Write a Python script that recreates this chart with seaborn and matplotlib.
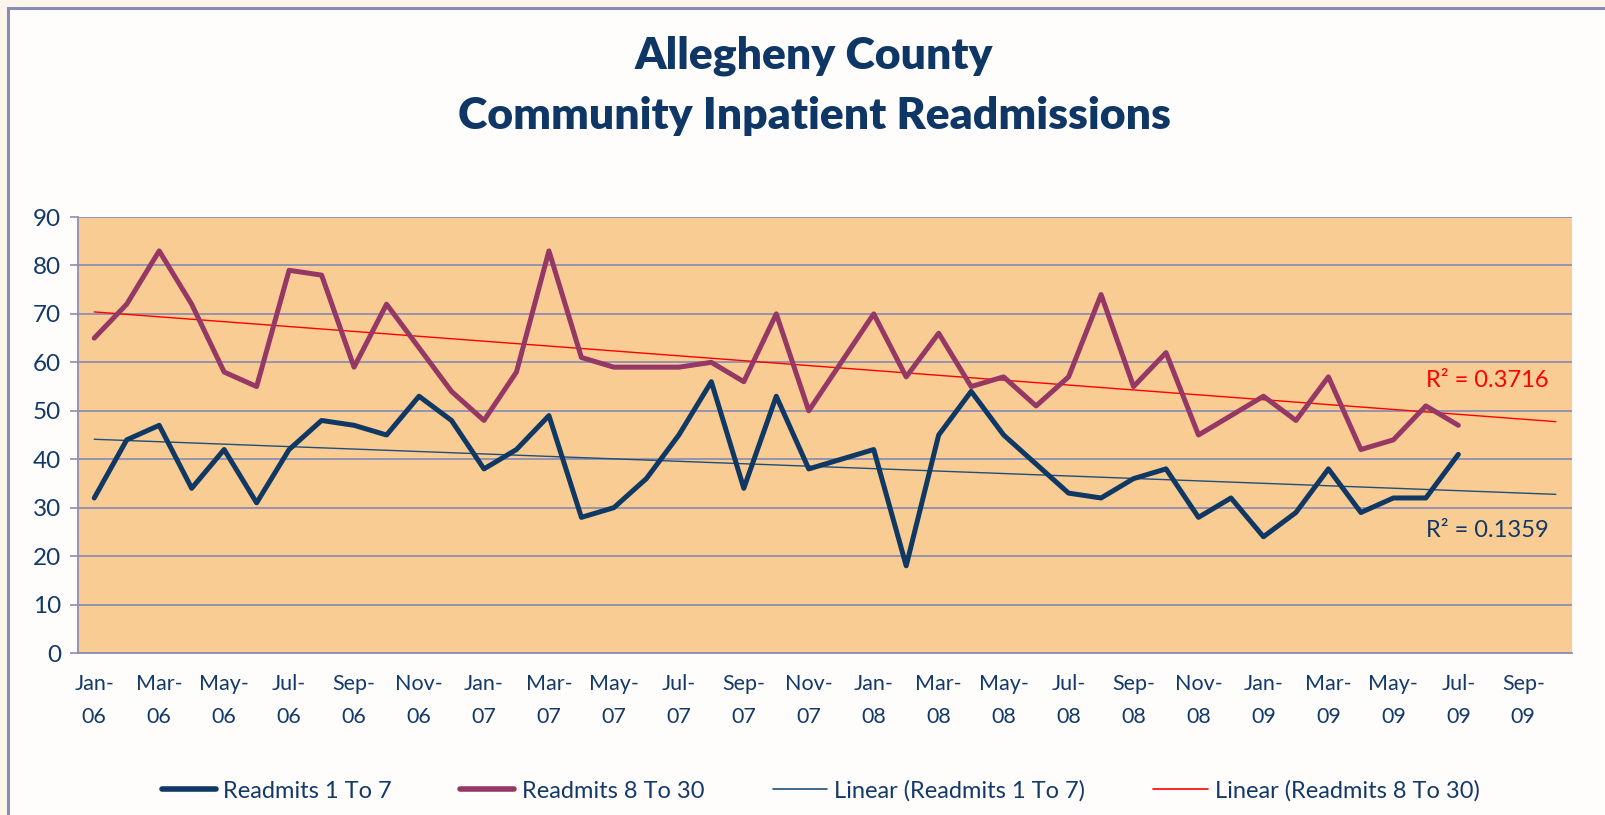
import numpy as np
import pandas as pd
import matplotlib
matplotlib.use("Agg")
import matplotlib.pyplot as plt
from matplotlib.patches import Rectangle
from matplotlib.lines import Line2D
import seaborn as sns

# ---------------- data ----------------
months = pd.date_range("2006-01-01", "2009-10-01", freq="MS")  # 46 categories
month_labels = [f"{m.strftime('%b')}-\n{m.strftime('%y')}" for m in months]

readmits_1_7 = [32, 44, 47, 34, 42, 31, 42, 48, 47, 45, 53, 48,
                38, 42, 49, 28, 30, 36, 45, 56, 34, 53, 38, 40,
                42, 18, 45, 54, 45, 39, 33, 32, 36, 38, 28, 32,
                24, 29, 38, 29, 32, 32, 41]
readmits_8_30 = [65, 72, 83, 72, 58, 55, 79, 78, 59, 72, 63, 54,
                 48, 58, 83, 61, 59, 59, 59, 60, 56, 70, 50, 60,
                 70, 57, 66, 55, 57, 51, 57, 74, 55, 62, 45, 49,
                 53, 48, 57, 42, 44, 51, 47]
r2_1_7 = "0.1359"
r2_8_30 = "0.3716"

# ---------------- style ----------------
sns.set_theme(style="white")
plt.rcParams["font.family"] = ["Lato", "DejaVu Sans"]

NAVY = "#0F3864"
MAGENTA = "#953865"
RED = "#FF0000"
GRID = "#8E8EB0"
TXT = "#12396A"
FILL = "#F9CC94"

fig = plt.figure(figsize=(16.06, 8.15), dpi=100)
fig.patch.set_facecolor("#FDF5EC")
fig.patches.append(Rectangle((8 / 1606, -0.02), 1.05, 1 - 8 / 815 + 0.02,
                             transform=fig.transFigure, facecolor="#FFFDFB",
                             edgecolor="#8A8AB8", linewidth=2.2, zorder=-10))

ax = fig.add_axes([78 / 1606, 1 - 653 / 815, (1572 - 78) / 1606, (653 - 217) / 815])
ax.set_zorder(2)
ax.set_facecolor(FILL)

n_data = len(readmits_1_7)
x_data = np.arange(n_data)
x_all = np.arange(len(months))

df = pd.DataFrame({"x": x_data, "r17": readmits_1_7, "r830": readmits_8_30})

# linear trend lines (least squares, extended forward like the original)
c17 = np.polyfit(x_data, readmits_1_7, 1)
c830 = np.polyfit(x_data, readmits_8_30, 1)
trend = pd.DataFrame({"x": x_all,
                      "t17": np.polyval(c17, x_all),
                      "t830": np.polyval(c830, x_all)})

sns.lineplot(data=trend, x="x", y="t17", ax=ax, color="#1F4E79", linewidth=1.0, zorder=3)
sns.lineplot(data=trend, x="x", y="t830", ax=ax, color=RED, linewidth=1.0, zorder=3)
sns.lineplot(data=df, x="x", y="r17", ax=ax, color=NAVY, linewidth=3.6, zorder=4)
sns.lineplot(data=df, x="x", y="r830", ax=ax, color=MAGENTA, linewidth=3.6, zorder=4)

ax.set_xlim(-0.5, len(months) - 0.5)
ax.set_ylim(0, 90)
ax.set_yticks(range(0, 91, 10))
ax.yaxis.grid(True, color=GRID, linewidth=1.3)
ax.set_axisbelow(True)
ax.set_xlabel("")
ax.set_ylabel("")

ax.set_xticks(x_all[::2])
ax.set_xticklabels(month_labels[::2], fontsize=15.5, color=TXT, linespacing=1.85)
ax.set_xticks(np.arange(-0.5, len(months), 2), minor=True)
ax.tick_params(axis="x", which="major", length=0, pad=15)
ax.tick_params(axis="x", which="minor", length=6, width=1.2, color=GRID, direction="out")
ax.tick_params(axis="y", length=6, width=1.2, color=GRID, direction="out",
               labelsize=17.5, labelcolor=TXT, left=True, pad=6)

for s in ["top", "right"]:
    ax.spines[s].set_visible(False)
for s in ["left", "bottom"]:
    ax.spines[s].set_color(GRID)
    ax.spines[s].set_linewidth(1.3)

ax.text(41.0, 56.3, f"R\u00b2 = {r2_8_30}", color=RED, fontsize=17, ha="left", va="center")
ax.text(41.0, 25.3, f"R\u00b2 = {r2_1_7}", color=NAVY, fontsize=17, ha="left", va="center")

fig.text(0.507, 1 - 56 / 815, "Allegheny County", ha="center", va="center",
         fontsize=32, fontweight="heavy", color="#0E3766")
fig.text(0.507, 1 - 116 / 815, "Community Inpatient Readmissions", ha="center", va="center",
         fontsize=32, fontweight="heavy", color="#0E3766")

handles = [Line2D([], [], color=NAVY, linewidth=4),
           Line2D([], [], color=MAGENTA, linewidth=4),
           Line2D([], [], color="#1F4E79", linewidth=1.2),
           Line2D([], [], color=RED, linewidth=1.2)]
labels = ["Readmits 1 To 7", "Readmits 8 To 30",
          "Linear (Readmits 1 To 7)", "Linear (Readmits 8 To 30)"]
fig.legend(handles, labels, loc="center", bbox_to_anchor=(0.511, 1 - 791 / 815),
           ncol=4, frameon=False, fontsize=17, labelcolor=TXT,
           handlelength=2.3, handletextpad=0.3, columnspacing=2.9)

fig.savefig("out.png", dpi=100, facecolor=fig.get_facecolor())
